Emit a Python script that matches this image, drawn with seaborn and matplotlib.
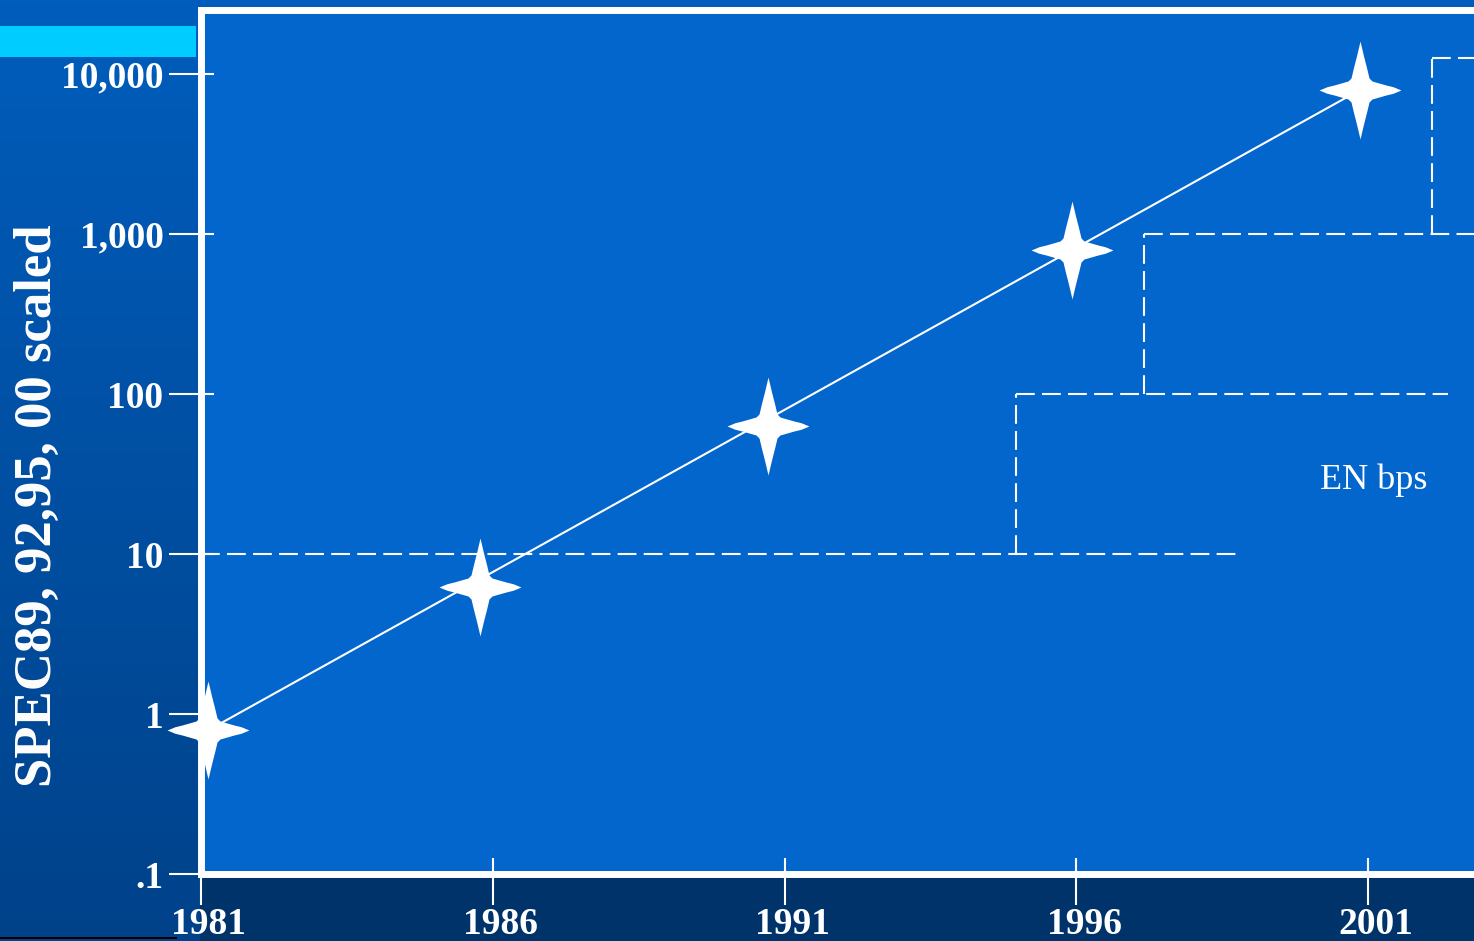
import numpy as np
import pandas as pd
import seaborn as sns
import matplotlib
matplotlib.use("Agg")
import matplotlib.pyplot as plt
from matplotlib.path import Path
from matplotlib.patches import Rectangle
from matplotlib.colors import LinearSegmentedColormap
from matplotlib.transforms import ScaledTranslation

# SPEC performance (scaled) per year
years = [1981.12, 1985.78, 1990.72, 1995.93, 2000.86]
spec = [0.79, 6.2, 63, 794, 7943]

# EN bps staircase: level, start year, end year of each dashed step
en_levels = [10, 100, 1000, 12500]
en_start = [1981, 1994.97, 1997.16, 2002.1]
en_end = [1998.81, 2002.37, 2003, 2003]

ytick_vals = [0.1, 1, 10, 100, 1000, 10000]
ytick_labels = [".1", "1", "10", "100", "1,000", "10,000"]
xtick_vals = [1981, 1986, 1991, 1996, 2001]

sns.set_style("white")
plt.rcParams['font.family'] = ['Liberation Serif', 'DejaVu Serif']

W, H = 1474, 941
fig = plt.figure(figsize=(W / 100, H / 100), dpi=100)

# slide background
bg = fig.add_axes([0, 0, 1, 1], zorder=-10)
grad = np.linspace(0, 1, 256).reshape(-1, 1)
cmap = LinearSegmentedColormap.from_list("slide", ["#005DBC", "#00428A"])
bg.imshow(grad, aspect="auto", extent=[0, 1, 0, 1], cmap=cmap, origin="upper")
bg.add_patch(Rectangle((200 / W, 0), 1, 64 / H, color="#00336A", lw=0))
bg.add_patch(Rectangle((0, 1 - 57 / H), 196 / W, 31 / H, color="#00CCFF", lw=0))
bg.add_patch(Rectangle((0, 2 / H), 177 / W, 2 / H, color="black", lw=0))
bg.set_xlim(0, 1)
bg.set_ylim(0, 1)
bg.axis("off")

px_per_year = 58.35
ax = fig.add_axes([201 / W, 67 / H, 22 * px_per_year / W, 864 / H])
ax.set_facecolor("#0366CD")
ax.set_yscale("log")
ax.set_xlim(1981, 2003)
ax.set_ylim(0.1, 10 ** 4.4)

# trend line
trend = pd.DataFrame({"year": [years[0], years[-1]], "spec": [spec[0], spec[-1]]})
sns.lineplot(data=trend, x="year", y="spec", color="white", lw=1.5, ax=ax, zorder=3)

# four-pointed star marker
q = np.array([(0, 49), (3.3, 35), (6.7, 21.7), (9, 12), (12, 9),
              (26, 5), (33, 3.3), (41, 0)])
q4 = q[::-1][1:] * [1, -1]
half = np.vstack([q, q4])
other = half[1:-1] * [-1, 1]
verts = np.vstack([half, other[::-1], [[0, 49]]])
codes = [Path.MOVETO] + [Path.LINETO] * (len(verts) - 2) + [Path.CLOSEPOLY]
star = Path(verts, codes)

pts = pd.DataFrame({"year": years, "spec": spec})
sns.scatterplot(data=pts, x="year", y="spec", marker=star, s=70.5 ** 2,
                color="white", linewidth=0, ax=ax, zorder=6, clip_on=False)

# EN bps dashed staircase
dash = (0, (9, 3.5))
ax.hlines(en_levels, en_start, en_end, colors="white", lw=1.5, linestyles=[dash])
ax.vlines(en_start[1:], en_levels[:-1], en_levels[1:], colors="white", lw=1.5,
          linestyles=[dash])
ax.text(2001.09, 29, "EN bps", color="white", fontsize=26, ha="center", va="center")

# spines and ticks
for side in ["left", "bottom", "top"]:
    ax.spines[side].set_color("white")
    ax.spines[side].set_linewidth(5)
ax.spines["right"].set_visible(False)

ax.set_yticks(ytick_vals)
ax.set_yticklabels(ytick_labels)
ax.set_yticks(ytick_vals, minor=True)
ax.yaxis.remove_overlapping_locs = False
ax.set_xticks(xtick_vals)
ax.set_xticklabels([str(y) for y in xtick_vals])
ax.set_xticks(xtick_vals, minor=True)
ax.xaxis.remove_overlapping_locs = False

ax.tick_params(axis="y", which="major", direction="out", length=23, width=1.5,
               color="white", labelcolor="white", labelsize=27, pad=4, left=True)
ax.tick_params(axis="y", which="minor", direction="in", length=9.5, width=1.5,
               color="white", labelleft=False, left=True)
ax.tick_params(axis="x", which="major", direction="out", length=22, width=1.5,
               color="white", labelcolor="white", labelsize=27, pad=2, bottom=True)
ax.tick_params(axis="x", which="minor", direction="in", length=11.5, width=1.5,
               color="white", labelbottom=False, bottom=True)
for lab in ax.get_xticklabels() + ax.get_yticklabels():
    lab.set_fontweight("bold")
for lab in ax.get_xticklabels():
    lab.set_transform(lab.get_transform() + ScaledTranslation(0.08, 0, fig.dpi_scale_trans))

ax.set_xlabel("")
ax.set_ylabel("")
fig.text(38 / W, 1 - 506 / H, "SPEC89, 92,95, 00 scaled", rotation=90, color="white",
         fontsize=38, fontweight="bold", ha="center", va="center")

fig.savefig("out.png", dpi=100)
